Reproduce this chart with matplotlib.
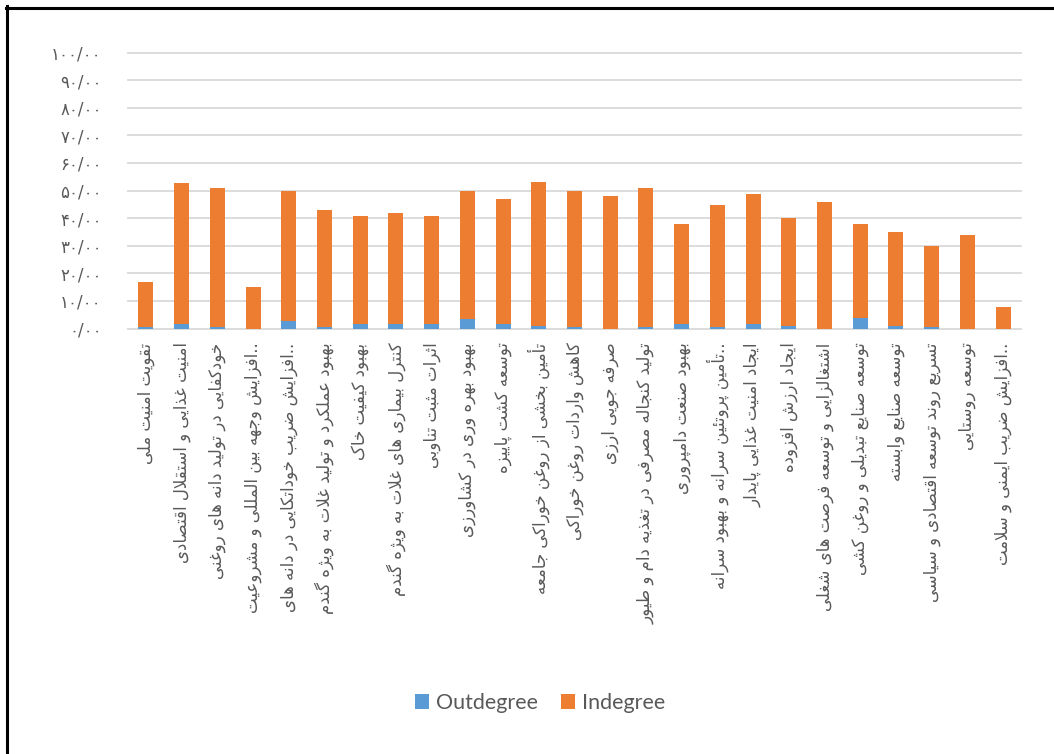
import matplotlib
matplotlib.use("Agg")
import matplotlib.pyplot as plt
from matplotlib.patches import Patch
from matplotlib.lines import Line2D

# ---------------- data ----------------
categories = [
    "تقویت امنیت ملی",
    "امنیت غذایی و استقلال اقتصادی",
    "خودکفایی در تولید دانه های روغنی",
    "افزایش وجهه بین المللی و مشروعیت..",
    "افزایش ضریب خوداتکایی در دانه های..",
    "بهبود عملکرد و تولید غلات به ویژه گندم",
    "بهبود کیفیت خاک",
    "کنترل بیماری های غلات به ویژه گندم",
    "اثرات مثبت تناوبی",
    "بهبود بهره وری در کشاورزی",
    "توسعه کشت پاییزه",
    "تأمین بخشی از روغن خوراکی جامعه",
    "کاهش واردات روغن خوراکی",
    "صرفه جویی ارزی",
    "تولید کنجاله مصرفی در تغذیه دام و طیور",
    "بهبود صنعت دامپروری",
    "تأمین پروتئین سرانه و بهبود سرانه..",
    "ایجاد امنیت غذایی پایدار",
    "ایجاد ارزش افزوده",
    "اشتغالزایی و توسعه فرصت های شغلی",
    "توسعه صنایع تبدیلی و روغن کشی",
    "توسعه صنایع وابسته",
    "تسریع روند توسعه اقتصادی و سیاسی",
    "توسعه روستایی",
    "افزایش ضریب ایمنی و سلامت..",
]
outdegree = [0.4, 1.7, 0.5, 0.0, 2.7, 0.5, 1.7, 1.7, 1.7, 3.4, 1.7, 1.0, 0.5,
             0.0, 0.5, 1.7, 0.5, 1.7, 1.0, 0.0, 3.9, 1.0, 0.5, 0.0, 0.0]
indegree = [16.4, 51.1, 50.5, 15.0, 47.2, 42.5, 39.1, 40.2, 39.1, 46.5, 45.3,
            52.1, 49.4, 48.1, 50.5, 36.2, 44.3, 47.1, 39.1, 45.9, 34.0, 34.0,
            29.4, 33.9, 7.7]
yticks = [0, 10, 20, 30, 40, 50, 60, 70, 80, 90, 100]
ytick_labels = ["۰/۰۰", "۱۰/۰۰", "۲۰/۰۰", "۳۰/۰۰", "۴۰/۰۰", "۵۰/۰۰",
                "۶۰/۰۰", "۷۰/۰۰", "۸۰/۰۰", "۹۰/۰۰", "۱۰۰/۰۰"]
series_names = ["Outdegree", "Indegree"]

# ---------------- minimal Arabic/Persian shaping ----------------
FORMS = {
    '\u0627': ('\uFE8D', '\uFE8E', None, None),
    '\u0623': ('\uFE83', '\uFE84', None, None),
    '\u0622': ('\uFE81', '\uFE82', None, None),
    '\u0628': ('\uFE8F', '\uFE90', '\uFE91', '\uFE92'),
    '\u062A': ('\uFE95', '\uFE96', '\uFE97', '\uFE98'),
    '\u062B': ('\uFE99', '\uFE9A', '\uFE9B', '\uFE9C'),
    '\u062C': ('\uFE9D', '\uFE9E', '\uFE9F', '\uFEA0'),
    '\u062D': ('\uFEA1', '\uFEA2', '\uFEA3', '\uFEA4'),
    '\u062E': ('\uFEA5', '\uFEA6', '\uFEA7', '\uFEA8'),
    '\u062F': ('\uFEA9', '\uFEAA', None, None),
    '\u0630': ('\uFEAB', '\uFEAC', None, None),
    '\u0631': ('\uFEAD', '\uFEAE', None, None),
    '\u0632': ('\uFEAF', '\uFEB0', None, None),
    '\u0633': ('\uFEB1', '\uFEB2', '\uFEB3', '\uFEB4'),
    '\u0634': ('\uFEB5', '\uFEB6', '\uFEB7', '\uFEB8'),
    '\u0635': ('\uFEB9', '\uFEBA', '\uFEBB', '\uFEBC'),
    '\u0636': ('\uFEBD', '\uFEBE', '\uFEBF', '\uFEC0'),
    '\u0637': ('\uFEC1', '\uFEC2', '\uFEC3', '\uFEC4'),
    '\u0638': ('\uFEC5', '\uFEC6', '\uFEC7', '\uFEC8'),
    '\u0639': ('\uFEC9', '\uFECA', '\uFECB', '\uFECC'),
    '\u063A': ('\uFECD', '\uFECE', '\uFECF', '\uFED0'),
    '\u0641': ('\uFED1', '\uFED2', '\uFED3', '\uFED4'),
    '\u0642': ('\uFED5', '\uFED6', '\uFED7', '\uFED8'),
    '\u06A9': ('\uFB8E', '\uFB8F', '\uFB90', '\uFB91'),
    '\u06AF': ('\uFB92', '\uFB93', '\uFB94', '\uFB95'),
    '\u0644': ('\uFEDD', '\uFEDE', '\uFEDF', '\uFEE0'),
    '\u0645': ('\uFEE1', '\uFEE2', '\uFEE3', '\uFEE4'),
    '\u0646': ('\uFEE5', '\uFEE6', '\uFEE7', '\uFEE8'),
    '\u0647': ('\uFEE9', '\uFEEA', '\uFEEB', '\uFEEC'),
    '\u0648': ('\uFEED', '\uFEEE', None, None),
    '\u06CC': ('\uFBFC', '\uFBFD', '\uFBFE', '\uFBFF'),
    '\u0626': ('\uFE89', '\uFE8A', '\uFE8B', '\uFE8C'),
    '\u067E': ('\uFB56', '\uFB57', '\uFB58', '\uFB59'),
    '\u0686': ('\uFB7A', '\uFB7B', '\uFB7C', '\uFB7D'),
    '\u0698': ('\uFB8A', '\uFB8B', None, None),
}
LAMALEF = {
    '\u0627': ('\uFEFB', '\uFEFC'),
    '\u0623': ('\uFEF7', '\uFEF8'),
    '\u0622': ('\uFEF5', '\uFEF6'),
}


def shape(s):
    items = []
    i = 0
    while i < len(s):
        c = s[i]
        if c == '\u0644' and i + 1 < len(s) and s[i + 1] in LAMALEF:
            items.append(('LA', s[i + 1]))
            i += 2
        else:
            items.append((c, None))
            i += 1

    def can_join(it):
        return it[0] == 'LA' or it[0] in FORMS

    def dual(it):
        return it[0] in FORMS and FORMS[it[0]][2] is not None

    out = []
    for k, it in enumerate(items):
        prev = items[k - 1] if k > 0 else None
        nxt = items[k + 1] if k + 1 < len(items) else None
        cp = prev is not None and dual(prev) and can_join(it)
        cn = nxt is not None and dual(it) and can_join(nxt)
        c, a = it
        if c == 'LA':
            iso, fin = LAMALEF[a]
            out.append(fin if cp else iso)
        elif c in FORMS:
            f = FORMS[c]
            if cp and cn:
                out.append(f[3])
            elif cp:
                out.append(f[1])
            elif cn:
                out.append(f[2])
            else:
                out.append(f[0])
        else:
            out.append(c)
    return ''.join(out)


def visual(label):
    trail = ''
    while label.endswith('.'):
        trail += '.'
        label = label[:-1]
    return shape(label)[::-1] + trail


# ---------------- figure ----------------
GRAY = '#595959'
BLUE = '#5B9BD5'
ORANGE = '#ED7D31'

fig = plt.figure(figsize=(10.54, 7.54), dpi=100)
fig.patch.set_facecolor('white')
ax = fig.add_axes([128 / 1054, 1 - 328.5 / 754, (1021 - 128) / 1054, (328.5 - 52.5) / 754])

x = list(range(len(categories)))
ax.bar(x, outdegree, width=0.42, color=BLUE, zorder=3)
ax.bar(x, indegree, width=0.42, bottom=outdegree, color=ORANGE, zorder=3)

ax.set_xlim(-0.5, len(categories) - 0.5)
ax.set_ylim(0, 100)
ax.set_yticks(yticks)
ax.set_yticklabels(ytick_labels, fontsize=12, color=GRAY, family='DejaVu Sans')
ax.set_xticks(x)
ax.set_xticklabels([visual(c) for c in categories], rotation=90, fontsize=12,
                   color=GRAY, family='DejaVu Sans', va='top', ha='center')
ax.tick_params(axis='y', length=0, pad=19)
ax.tick_params(axis='x', length=0, pad=10)
for sp in ax.spines.values():
    sp.set_visible(False)
ax.yaxis.grid(True, color='#d9d9d9', linewidth=1.3, zorder=0)
ax.set_axisbelow(True)
for gl in ax.get_ygridlines():
    gl.set_clip_on(False)

handles = [Patch(facecolor=BLUE, edgecolor='none'),
           Patch(facecolor=ORANGE, edgecolor='none')]
leg = fig.legend(handles, series_names, loc='center', bbox_to_anchor=(540 / 1054, 1 - 703 / 754),
                 ncol=2, frameon=False, handlelength=0.65, handleheight=0.65,
                 handletextpad=0.3, columnspacing=1.1, prop={'family': 'Lato', 'size': 15.5})
for t in leg.get_texts():
    t.set_color(GRAY)

# outer chart frame (left and top edges visible)
fig.add_artist(Line2D([6.5 / 1054, 6.5 / 1054], [0, 1 - 6 / 754], color='black', linewidth=2.2,
                      transform=fig.transFigure))
fig.add_artist(Line2D([5.5 / 1054, 1.0], [1 - 7.5 / 754, 1 - 7.5 / 754], color='black', linewidth=2.2,
                      transform=fig.transFigure))

fig.savefig('out.png', dpi=100, facecolor='white')
